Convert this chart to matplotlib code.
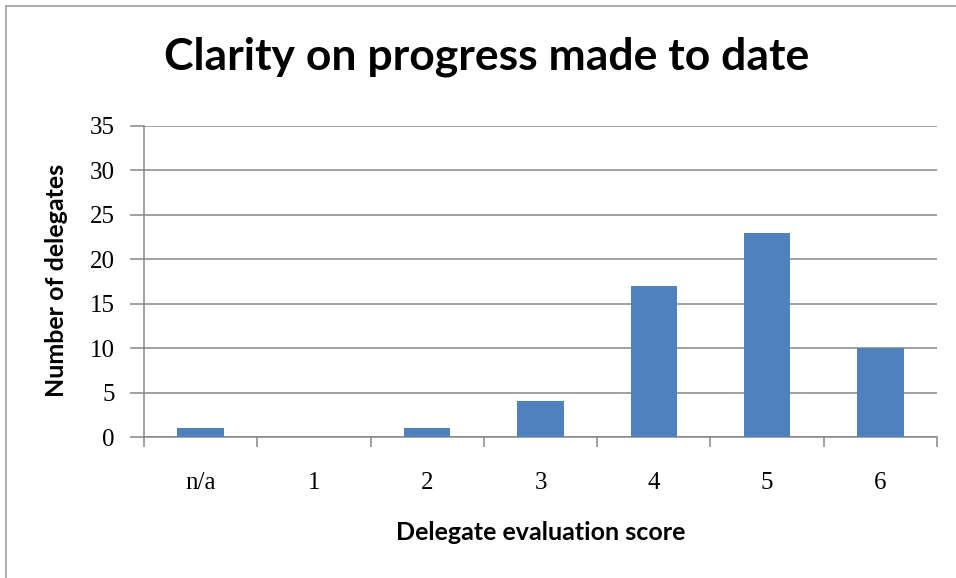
import matplotlib
matplotlib.use("Agg")
import matplotlib.pyplot as plt
from matplotlib.lines import Line2D
import numpy as np

categories = ["n/a", "1", "2", "3", "4", "5", "6"]
values = [1, 0, 1, 4, 17, 23, 10]
yticks = [0, 5, 10, 15, 20, 25, 30, 35]

title = "Clarity on progress made to date"
xlabel = "Delegate evaluation score"
ylabel = "Number of delegates"

fig = plt.figure(figsize=(9.56, 5.78), dpi=100)
fig.patch.set_facecolor("white")
# border visible only on top and left (screenshot crop)
fig.lines.append(Line2D([6/956, 1], [1-6/578, 1-6/578], transform=fig.transFigure,
                        color="#a0a0a0", linewidth=1.2))
fig.lines.append(Line2D([6/956, 6/956], [0, 1-6/578], transform=fig.transFigure,
                        color="#a0a0a0", linewidth=1.2))

ax = fig.add_axes([144/956, 1-437/578, (937-144)/956, (437-126)/578])
x = np.arange(len(categories))
ax.bar(x, values, width=0.41, color="#4F81BD", zorder=3)
ax.set_xlim(-0.5, len(categories) - 0.5)
ax.set_ylim(0, 35)
ax.set_yticks(yticks)
ax.yaxis.grid(True, color="#878787", linewidth=1.1, zorder=0)
ax.set_axisbelow(True)
for s in ["top", "right"]:
    ax.spines[s].set_visible(False)
for s in ["left", "bottom"]:
    ax.spines[s].set_color("#878787")
    ax.spines[s].set_linewidth(1.1)

ax.set_xticks(x)
ax.set_xticklabels(categories, fontfamily="Liberation Serif", fontsize=18)
ax.tick_params(axis="x", which="major", length=0, pad=25)
ax.set_xticks(np.arange(len(categories) + 1) - 0.5, minor=True)
ax.tick_params(axis="x", which="minor", length=7, width=1.1, color="#878787", direction="out")
ax.tick_params(axis="y", length=10, width=1.1, color="#878787", pad=11)
for lbl in ax.get_yticklabels():
    lbl.set_fontfamily("Liberation Serif")
    lbl.set_fontsize(18)

fig.text(487/956, 1-57/578, title, ha="center", va="center", fontsize=32,
         fontweight="bold", fontfamily="Lato")
fig.text(541/956, 1-533/578, xlabel, ha="center", va="center", fontsize=18,
         fontweight="bold", fontfamily="Lato")
fig.text(56/956, 1-280/578, ylabel, ha="center", va="center", rotation=90, fontsize=18,
         fontweight="bold", fontfamily="Lato")

fig.savefig("out.png", dpi=100, facecolor="white")
